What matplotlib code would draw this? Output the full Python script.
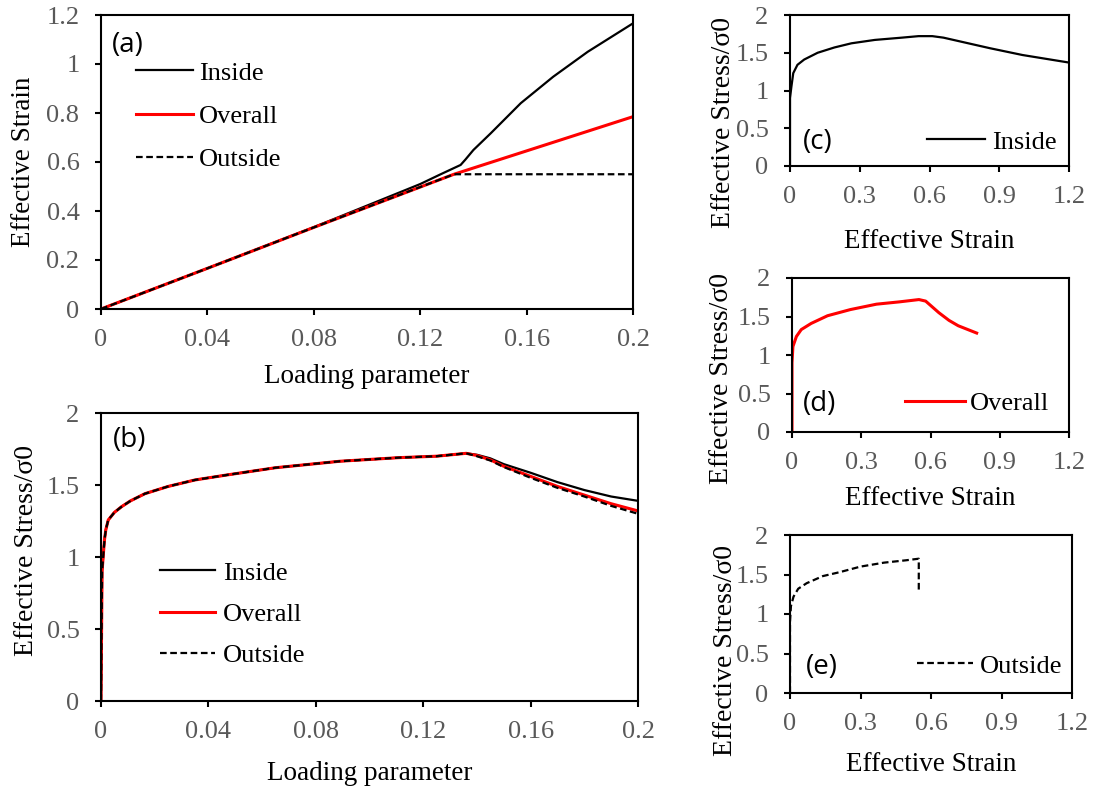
import matplotlib

matplotlib.use("Agg")
import matplotlib.pyplot as plt
from matplotlib.ticker import FormatStrFormatter

plt.rcParams["font.family"] = ["Liberation Serif", "DejaVu Serif"]

# (a) effective strain vs loading parameter
a_in_x = [0, 0.04, 0.08, 0.12, 0.1277, 0.1352, 0.137, 0.140, 0.1465, 0.1578, 0.170, 0.183, 0.2]
a_in_y = [0, 0.166, 0.334, 0.510, 0.550, 0.588, 0.610, 0.649, 0.717, 0.840, 0.948, 1.050, 1.166]
a_ov_x = [0, 0.04, 0.08, 0.1327, 0.2]
a_ov_y = [0, 0.166, 0.333, 0.550, 0.785]
a_out_x = [0, 0.04, 0.08, 0.1327, 0.2]
a_out_y = [0, 0.166, 0.333, 0.550, 0.550]

# (b) effective stress vs loading parameter
b_load = [0, 0.0004, 0.0010, 0.0013, 0.0018, 0.0027, 0.005, 0.0077, 0.011,
          0.0164, 0.025, 0.035, 0.047, 0.065, 0.089, 0.111, 0.125, 0.136,
          0.140, 0.145, 0.150, 0.160, 0.170, 0.180, 0.190, 0.2]
b_inside = [0, 0.90, 1.05, 1.12, 1.19, 1.257, 1.31, 1.35, 1.39,
            1.44, 1.49, 1.535, 1.57, 1.62, 1.665, 1.69, 1.70, 1.72,
            1.71, 1.685, 1.645, 1.585, 1.52, 1.465, 1.42, 1.39]
b_overall = [0, 0.90, 1.05, 1.12, 1.19, 1.257, 1.31, 1.35, 1.39,
             1.44, 1.49, 1.535, 1.57, 1.62, 1.665, 1.69, 1.70, 1.72,
             1.705, 1.675, 1.63, 1.56, 1.49, 1.43, 1.37, 1.32]
b_outside = [0, 0.90, 1.05, 1.12, 1.19, 1.257, 1.31, 1.35, 1.39,
             1.44, 1.49, 1.535, 1.57, 1.62, 1.665, 1.69, 1.70, 1.72,
             1.70, 1.67, 1.625, 1.55, 1.48, 1.42, 1.355, 1.30]

# (c) inside stress-strain
c_strain = [0, 0.0, 0.006, 0.014, 0.032, 0.061, 0.119, 0.191, 0.264, 0.365,
            0.481, 0.553, 0.612, 0.66, 0.76, 0.86, 1.0, 1.2]
c_stress = [0, 0.90, 1.05, 1.23, 1.34, 1.41, 1.50, 1.57, 1.625, 1.67,
            1.70, 1.72, 1.72, 1.70, 1.63, 1.56, 1.47, 1.37]

# (d) overall stress-strain
d_strain = [0, 0.0, 0.004, 0.019, 0.04, 0.083, 0.154, 0.253, 0.366, 0.465,
            0.55, 0.579, 0.636, 0.68, 0.72, 0.80]
d_stress = [0, 0.90, 1.11, 1.24, 1.33, 1.41, 1.51, 1.59, 1.66, 1.69,
            1.72, 1.70, 1.55, 1.45, 1.38, 1.285]

# (e) outside stress-strain
e_strain = [0, 0.0, 0.004, 0.015, 0.035, 0.071, 0.14, 0.212, 0.30, 0.40,
            0.494, 0.548, 0.548]
e_stress = [0, 0.90, 1.10, 1.22, 1.32, 1.39, 1.48, 1.53, 1.60, 1.65,
            1.68, 1.70, 1.28]

GRAY = "#595959"
RED = "#ff0000"
DASH = (0, (3, 1.6))
FS = 19


def style_axes(ax):
    for sp in ax.spines.values():
        sp.set_linewidth(1.5)
        sp.set_color("black")
    ax.tick_params(direction="out", length=4.5, width=1.5, pad=10,
                   labelsize=FS, labelcolor=GRAY, colors="black")
    ax.tick_params(axis="y", pad=11)
    ax.xaxis.set_major_formatter(FormatStrFormatter("%g"))
    ax.yaxis.set_major_formatter(FormatStrFormatter("%g"))


def panel_label(ax, text, x, y):
    ax.text(x, y, text, transform=ax.transAxes, fontsize=20,
            family="Open Sans", va="center", ha="left")


W, H = 1094, 788
fig = plt.figure(figsize=(W / 100, H / 100), dpi=100)


def rect(left, right, top, bottom):
    return [left / W, (H - bottom) / H, (right - left) / W, (bottom - top) / H]


# Panel (a)
ax_a = fig.add_axes(rect(101, 633, 15, 309))
ax_a.plot(a_in_x, a_in_y, color="black", lw=1.6, label="Inside")
ax_a.plot(a_ov_x, a_ov_y, color=RED, lw=2.2, label="Overall")
ax_a.plot(a_out_x, a_out_y, color="black", lw=1.6, linestyle=DASH, label="Outside")
ax_a.set_xlim(0, 0.2)
ax_a.set_ylim(0, 1.2)
ax_a.set_xticks([0, 0.04, 0.08, 0.12, 0.16, 0.2])
ax_a.set_yticks([0, 0.2, 0.4, 0.6, 0.8, 1.0, 1.2])
style_axes(ax_a)
ax_a.set_xlabel("Loading parameter", fontsize=19.5)
ax_a.set_ylabel("Effective Strain", fontsize=19.5)
ax_a.xaxis.set_label_coords(0.5, -0.187)
ax_a.yaxis.set_label_coords(-0.122, 0.5)
ax_a.legend(loc="upper left", bbox_to_anchor=(0.066, 0.843), frameon=False,
            fontsize=FS, borderpad=0, borderaxespad=0, handlelength=2.16,
            handletextpad=0.23, labelspacing=0.75)
panel_label(ax_a, "(a)", 0.021, 0.898)

# Panel (b)
ax_b = fig.add_axes(rect(101, 638, 413, 701))
ax_b.plot(b_load, b_inside, color="black", lw=1.6, label="Inside")
ax_b.plot(b_load, b_overall, color=RED, lw=2.2, label="Overall")
ax_b.plot(b_load, b_outside, color="black", lw=1.6, linestyle=DASH, label="Outside")
ax_b.set_xlim(0, 0.2)
ax_b.set_ylim(0, 2)
ax_b.set_xticks([0, 0.04, 0.08, 0.12, 0.16, 0.2])
ax_b.set_yticks([0, 0.5, 1, 1.5, 2])
style_axes(ax_b)
ax_b.set_xlabel("Loading parameter", fontsize=19.5)
ax_b.set_ylabel("Effective Stress/σ0", fontsize=20)
ax_b.xaxis.set_label_coords(0.5, -0.208)
ax_b.yaxis.set_label_coords(-0.115, 0.524)
ax_b.legend(loc="upper left", bbox_to_anchor=(0.110, 0.486), frameon=False,
            fontsize=FS, borderpad=0, borderaxespad=0, handlelength=2.08,
            handletextpad=0.3, labelspacing=0.68)
panel_label(ax_b, "(b)", 0.022, 0.906)

# Right column panels
right_panels = [
    (rect(790, 1069, 15, 166), c_strain, c_stress, "black", "-", "Inside", "(c)",
     -0.417, (-0.194, 0.285), (0.491, 0.159), 2.2, 0.26, (0.047, 0.159)),
    (rect(792, 1069, 278, 432), d_strain, d_stress, RED, "-", "Overall", "(d)",
     -0.351, (-0.209, 0.347), (0.408, 0.188), 2.27, 0.19, (0.040, 0.182)),
    (rect(790, 1072, 535, 693), e_strain, e_stress, "black", DASH, "Outside", "(e)",
     -0.373, (-0.184, 0.269), (0.450, 0.171), 2.12, 0.27, (0.057, 0.165)),
]

for (r, xs, ys, col, ls, name, tag, xl_y, yl_xy, leg_xy, hl, htp, tag_xy) in right_panels:
    ax = fig.add_axes(r)
    lw = 2.2 if col == RED else 1.6
    ax.plot(xs, ys, color=col, lw=lw, linestyle=ls, label=name)
    ax.set_xlim(0, 1.2)
    ax.set_ylim(0, 2)
    ax.set_xticks([0, 0.3, 0.6, 0.9, 1.2])
    ax.set_yticks([0, 0.5, 1, 1.5, 2])
    style_axes(ax)
    ax.set_xlabel("Effective Strain", fontsize=19.5)
    ax.set_ylabel("Effective Stress/σ0", fontsize=20)
    ax.xaxis.set_label_coords(0.5, xl_y)
    ax.yaxis.set_label_coords(*yl_xy)
    ax.legend(loc="center left", bbox_to_anchor=leg_xy, frameon=False,
              fontsize=FS, borderpad=0, borderaxespad=0, handlelength=hl,
              handletextpad=htp)
    panel_label(ax, tag, *tag_xy)

fig.savefig("out.png", dpi=100, facecolor="white")
plt.close(fig)
